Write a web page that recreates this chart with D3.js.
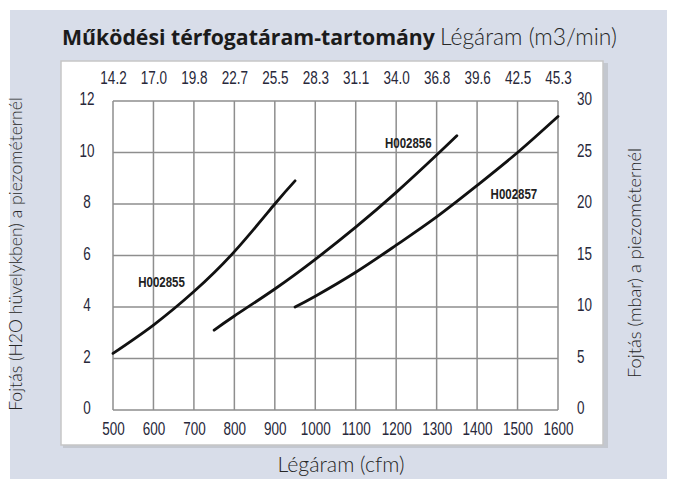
<!DOCTYPE html>
<html>
<head>
<meta charset="utf-8">
<script src="https://cdn.jsdelivr.net/npm/d3@7"></script>
<style>
  body { margin: 0; background: #fff; }
  .tick text { font-family: "Liberation Sans", Arial, sans-serif; font-size: 18px; fill: #28283a; }
  .curve-label { font-family: "Liberation Sans", Arial, sans-serif; font-weight: bold; font-size: 14px; fill: #222; }
</style>
</head>
<body>
<div id="chart"></div>
<script>
// data
var cfmTicks = [500, 600, 700, 800, 900, 1000, 1100, 1200, 1300, 1400, 1500, 1600];
var m3Labels = ["14.2", "17.0", "19.8", "22.7", "25.5", "28.3", "31.1", "34.0", "36.8", "39.6", "42.5", "45.3"];
var inchTicks = [0, 2, 4, 6, 8, 10, 12];
var mbarTicks = [0, 5, 10, 15, 20, 25, 30];

var seriesNames = ["H002855", "H002856", "H002857"];
var h2855Cfm = [500, 600, 700, 800, 900, 950];
var h2855Val = [2.2, 3.3, 4.6, 6.15, 8.0, 8.9];
var h2856Cfm = [750, 800, 900, 1000, 1100, 1200, 1300, 1350];
var h2856Val = [3.1, 3.65, 4.7, 5.85, 7.1, 8.45, 9.9, 10.65];
var h2857Cfm = [950, 1000, 1100, 1200, 1300, 1400, 1500, 1600];
var h2857Val = [4.0, 4.42, 5.35, 6.4, 7.5, 8.72, 10.0, 11.4];
// where the name sits next to each curve (cfm, inches)
var labelCfm = [620, 1230, 1491];
var labelVal = [4.95, 10.35, 8.4];

var svgWidth = 675;
var svgHeight = 479;
var margin = { top: 101, right: 117, bottom: 69, left: 113 };
var width = svgWidth - margin.left - margin.right;
var height = svgHeight - margin.top - margin.bottom;

var svg = d3.select("#chart")
  .append("svg")
  .attr("width", svgWidth)
  .attr("height", svgHeight);

// background box and white panel
svg.append("rect")
  .attr("x", 10).attr("y", 10)
  .attr("width", 657).attr("height", 469)
  .attr("fill", "#d8dde9");

svg.append("rect")
  .attr("x", 63).attr("y", 63)
  .attr("width", 545).attr("height", 385)
  .attr("fill", "#c3c7cf");

svg.append("rect")
  .attr("x", 61).attr("y", 61)
  .attr("width", 542).attr("height", 384)
  .attr("fill", "#fff")
  .attr("stroke", "#c6c6c6")
  .attr("stroke-width", 1.5);

// fit a text to a width by changing its font size
function fitText(sel, target) {
  var fs = parseFloat(sel.style("font-size"));
  var w = sel.node().getComputedTextLength();
  sel.style("font-size", (fs * target / w).toFixed(2) + "px");
}

// squeeze glyphs horizontally, the ref uses a condensed face
function squeeze(sel, k) {
  sel.each(function() {
    var w = this.getComputedTextLength();
    d3.select(this)
      .attr("textLength", (w * k).toFixed(1))
      .attr("lengthAdjust", "spacingAndGlyphs");
  });
}

// titles
var title = svg.append("text")
  .attr("x", 62).attr("y", 45)
  .style("font-family", "'Open Sans', sans-serif")
  .style("font-weight", "bold")
  .style("font-size", "20px")
  .attr("fill", "#1b1b1b")
  .text("Működési térfogatáram-tartomány");
fitText(title, 373);

var sub = svg.append("text")
  .attr("x", 440).attr("y", 45)
  .style("font-family", "Lato, sans-serif")
  .style("font-weight", 300)
  .style("font-size", "17px")
  .attr("fill", "#262626")
  .text("Légáram (m3/min)");
fitText(sub, 177);

var chartGroup = svg.append("g")
  .attr("transform", `translate(${margin.left}, ${margin.top})`);

var x = d3.scaleLinear().domain([500, 1600]).range([0, width]);
var y = d3.scaleLinear().domain([0, 12]).range([height, 0]);
var y2 = d3.scaleLinear().domain([0, 30]).range([height, 0]);

// grid
chartGroup.append("g")
  .selectAll("line")
  .data(cfmTicks)
  .enter()
  .append("line")
  .attr("x1", d => x(d)).attr("x2", d => x(d))
  .attr("y1", 0).attr("y2", height)
  .attr("stroke", "#8e8e8e")
  .attr("stroke-width", 1.5);

chartGroup.append("g")
  .selectAll("line")
  .data(inchTicks)
  .enter()
  .append("line")
  .attr("x1", 0).attr("x2", width)
  .attr("y1", d => y(d)).attr("y2", d => y(d))
  .attr("stroke", "#8e8e8e")
  .attr("stroke-width", 1.5);

// axes
var bottomAxis = d3.axisBottom(x).tickValues(cfmTicks).tickSize(0).tickPadding(12).tickFormat(d3.format("d"));
var topAxis = d3.axisTop(x).tickValues(cfmTicks).tickSize(0).tickPadding(17).tickFormat((d, i) => m3Labels[i]);
var leftAxis = d3.axisLeft(y).tickValues(inchTicks).tickSize(0).tickPadding(26);
var rightAxis = d3.axisRight(y2).tickValues(mbarTicks).tickSize(0).tickPadding(19);

chartGroup.append("g").attr("transform", `translate(0, ${height})`).call(bottomAxis);
chartGroup.append("g").call(topAxis);
chartGroup.append("g").call(leftAxis)
  .selectAll("text").attr("text-anchor", "middle").attr("dy", "0.2em");
chartGroup.append("g").attr("transform", `translate(${width}, 0)`).call(rightAxis)
  .selectAll("text").attr("dy", "0.2em");
chartGroup.selectAll(".domain").remove();
squeeze(chartGroup.selectAll(".tick text"), 0.75);

// curves
var curves = [
  d3.zip(h2855Cfm, h2855Val),
  d3.zip(h2856Cfm, h2856Val),
  d3.zip(h2857Cfm, h2857Val)
];

var line = d3.line()
  .x(d => x(d[0]))
  .y(d => y(d[1]))
  .curve(d3.curveNatural);

chartGroup.selectAll(".curve")
  .data(curves)
  .enter()
  .append("path")
  .attr("class", "curve")
  .attr("d", line)
  .attr("fill", "none")
  .attr("stroke", "#111")
  .attr("stroke-width", 2.8)
  .attr("stroke-linecap", "round");

var curveLabels = chartGroup.selectAll(".curve-label")
  .data(seriesNames)
  .enter()
  .append("text")
  .attr("class", "curve-label")
  .attr("x", (d, i) => x(labelCfm[i]))
  .attr("y", (d, i) => y(labelVal[i]))
  .attr("dy", "0.35em")
  .attr("text-anchor", "middle")
  .text(d => d);
squeeze(curveLabels, 0.82);

// axis titles
var xTitle = svg.append("text")
  .attr("x", 341).attr("y", 472)
  .attr("text-anchor", "middle")
  .style("font-family", "Lato, sans-serif")
  .style("font-weight", 300)
  .style("font-size", "16px")
  .attr("fill", "#262626")
  .text("Légáram (cfm)");
fitText(xTitle, 127);

var yTitle = svg.append("text")
  .attr("transform", "translate(22, 254) rotate(-90)")
  .attr("text-anchor", "middle")
  .style("font-family", "Lato, sans-serif")
  .style("font-weight", 300)
  .style("font-size", "14px")
  .attr("fill", "#262626")
  .text("Fojtás (H2O hüvelykben) a piezométernél");
fitText(yTitle, 314);

var y2Title = svg.append("text")
  .attr("transform", "translate(641, 263) rotate(-90)")
  .attr("text-anchor", "middle")
  .style("font-family", "Lato, sans-serif")
  .style("font-weight", 300)
  .style("font-size", "14px")
  .attr("fill", "#262626")
  .text("Fojtás (mbar) a piezométernél");
fitText(y2Title, 230);
</script>
</body>
</html>
